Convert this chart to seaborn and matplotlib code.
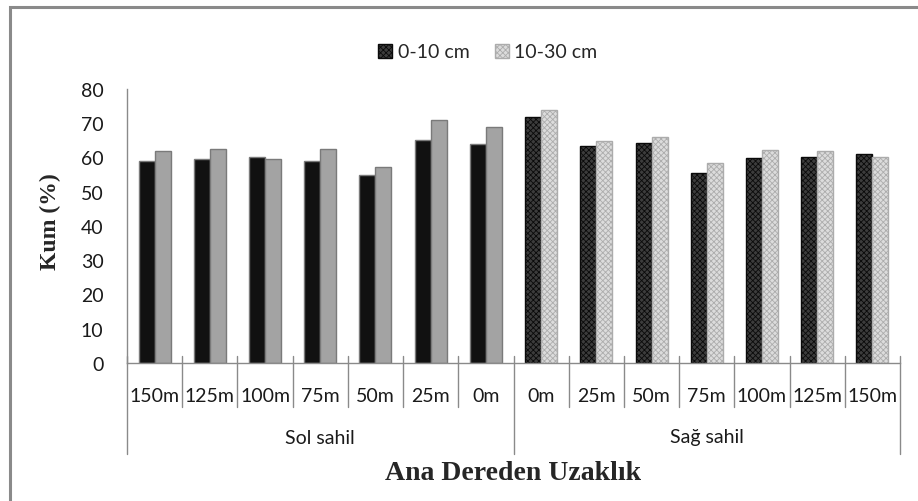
import matplotlib
matplotlib.use("Agg")
import matplotlib.pyplot as plt
import matplotlib.transforms as mtransforms
from matplotlib.patches import Patch, Rectangle
import seaborn as sns
import pandas as pd

# ---- data ----
distances = ["150m", "125m", "100m", "75m", "50m", "25m", "0m",
             "0m", "25m", "50m", "75m", "100m", "125m", "150m"]
banks = ["Sol sahil"] * 7 + ["Sağ sahil"] * 7
depth_labels = ["0-10 cm", "10-30 cm"]
sand_0_10 = [59.0, 59.7, 60.0, 59.0, 54.8, 65.1, 63.8,
             71.9, 63.4, 64.3, 55.6, 59.8, 60.1, 61.0]
sand_10_30 = [61.9, 62.6, 59.5, 62.6, 57.3, 70.9, 69.0,
              73.9, 64.8, 66.1, 58.3, 62.2, 61.9, 60.0]
y_ticks = [0, 10, 20, 30, 40, 50, 60, 70, 80]

keys = [f"{b} {d}" for b, d in zip(banks, distances)]
df = pd.DataFrame({
    "key": keys * 2,
    "value": sand_0_10 + sand_10_30,
    "depth": [depth_labels[0]] * len(keys) + [depth_labels[1]] * len(keys),
})

sns.set_style("white")
plt.rcParams["font.family"] = ["Lato", "DejaVu Sans"]
plt.rcParams["hatch.linewidth"] = 0.6

W, H = 918, 502
fig = plt.figure(figsize=(W / 100, H / 100), dpi=100)
ax_left, ax_right, ax_top, ax_bot = 127, 900, 90, 364
ax = fig.add_axes([ax_left / W, 1 - ax_bot / H, (ax_right - ax_left) / W, (ax_bot - ax_top) / H])

sns.barplot(data=df, x="key", y="value", hue="depth", order=keys,
            hue_order=depth_labels, palette=["#111111", "#a3a3a3"],
            width=0.58, edgecolor="#7a7a7a", linewidth=1.0,
            legend=False, ax=ax)

styles = [("#3c3c3c", "#0a0a0a"), ("#dcdcdc", "#acacac")]
HATCH = "xxxxxx"


def style_hatched(p, fc, hc):
    p.set_facecolor(fc)
    p.set_hatch(HATCH)
    if hasattr(p, "set_hatchcolor"):
        p.set_hatchcolor(hc)
        p.set_edgecolor("#7a7a7a")
    else:
        p.set_edgecolor(hc)


for ci, cont in enumerate(ax.containers):
    fc, hc = styles[ci]
    for i, p in enumerate(cont.patches):
        if banks[i] == "Sağ sahil":
            style_hatched(p, fc, hc)

ax.set_ylim(0, 80)
ax.set_xlim(-0.5, len(keys) - 0.5)
ax.set_yticks(y_ticks)
ax.set_yticklabels([str(t) for t in y_ticks], fontsize=14, color="#1a1a1a")
ax.tick_params(axis="y", length=0, pad=17)
ax.set_xticks([])
ax.set_xlabel("")
ax.set_ylabel("")
for s in ["top", "right"]:
    ax.spines[s].set_visible(False)
for s in ["left", "bottom"]:
    ax.spines[s].set_color("#8a8a8a")
    ax.spines[s].set_linewidth(1.0)

span = ax_bot - ax_top


def fy(px):
    return (ax_bot - px) / span


trans = mtransforms.blended_transform_factory(ax.transData, ax.transAxes)
n = len(keys)
for b in range(n + 1):
    x = b - 0.5
    is_group = (b == 0 or b == n or banks[b - 1] != banks[b])
    y_end = 455 if is_group else 408
    ax.plot([x, x], [fy(357), fy(y_end)], transform=trans, color="#8a8a8a",
            lw=1.0, clip_on=False)

for i, d in enumerate(distances):
    ax.text(i, fy(396), d, transform=trans, ha="center", va="center",
            fontsize=14, color="#1a1a1a")

groups = []
for i, b in enumerate(banks):
    if not groups or groups[-1][0] != b:
        groups.append([b, i, i])
    else:
        groups[-1][2] = i
for b, s, e in groups:
    ax.text((s + e) / 2, fy(438), b, transform=trans, ha="center", va="center",
            fontsize=14, color="#1a1a1a")

ax.text(0.5, fy(473), "Ana Dereden Uzaklık", transform=ax.transAxes,
        ha="center", va="center", fontsize=20, fontweight="bold",
        family=["Liberation Serif", "DejaVu Serif"])
fig.text(50 / W, 1 - 222 / H, "Kum (%)", rotation=90, ha="center", va="center",
         fontsize=17, fontweight="bold", family=["Liberation Serif", "DejaVu Serif"])

h0 = Patch(facecolor=styles[0][0], hatch=HATCH, edgecolor=styles[0][1])
h1 = Patch(facecolor=styles[1][0], hatch=HATCH, edgecolor=styles[1][1])
fig.legend([h0, h1], depth_labels, loc="center",
           bbox_to_anchor=(488 / W, 1 - 53 / H), ncol=2, frameon=False,
           fontsize=14, handlelength=0.7, handleheight=0.7,
           handletextpad=0.3, columnspacing=1.3)

# outer chart border (right/bottom edges fall outside the picture)
fig.patches.append(Rectangle((10 / W, -0.05), 1.0, 1 - 8 / H + 0.05,
                             transform=fig.transFigure, fill=False,
                             edgecolor="#8a8a8a", lw=2.2))

fig.savefig("out.png", dpi=100, facecolor="white")
